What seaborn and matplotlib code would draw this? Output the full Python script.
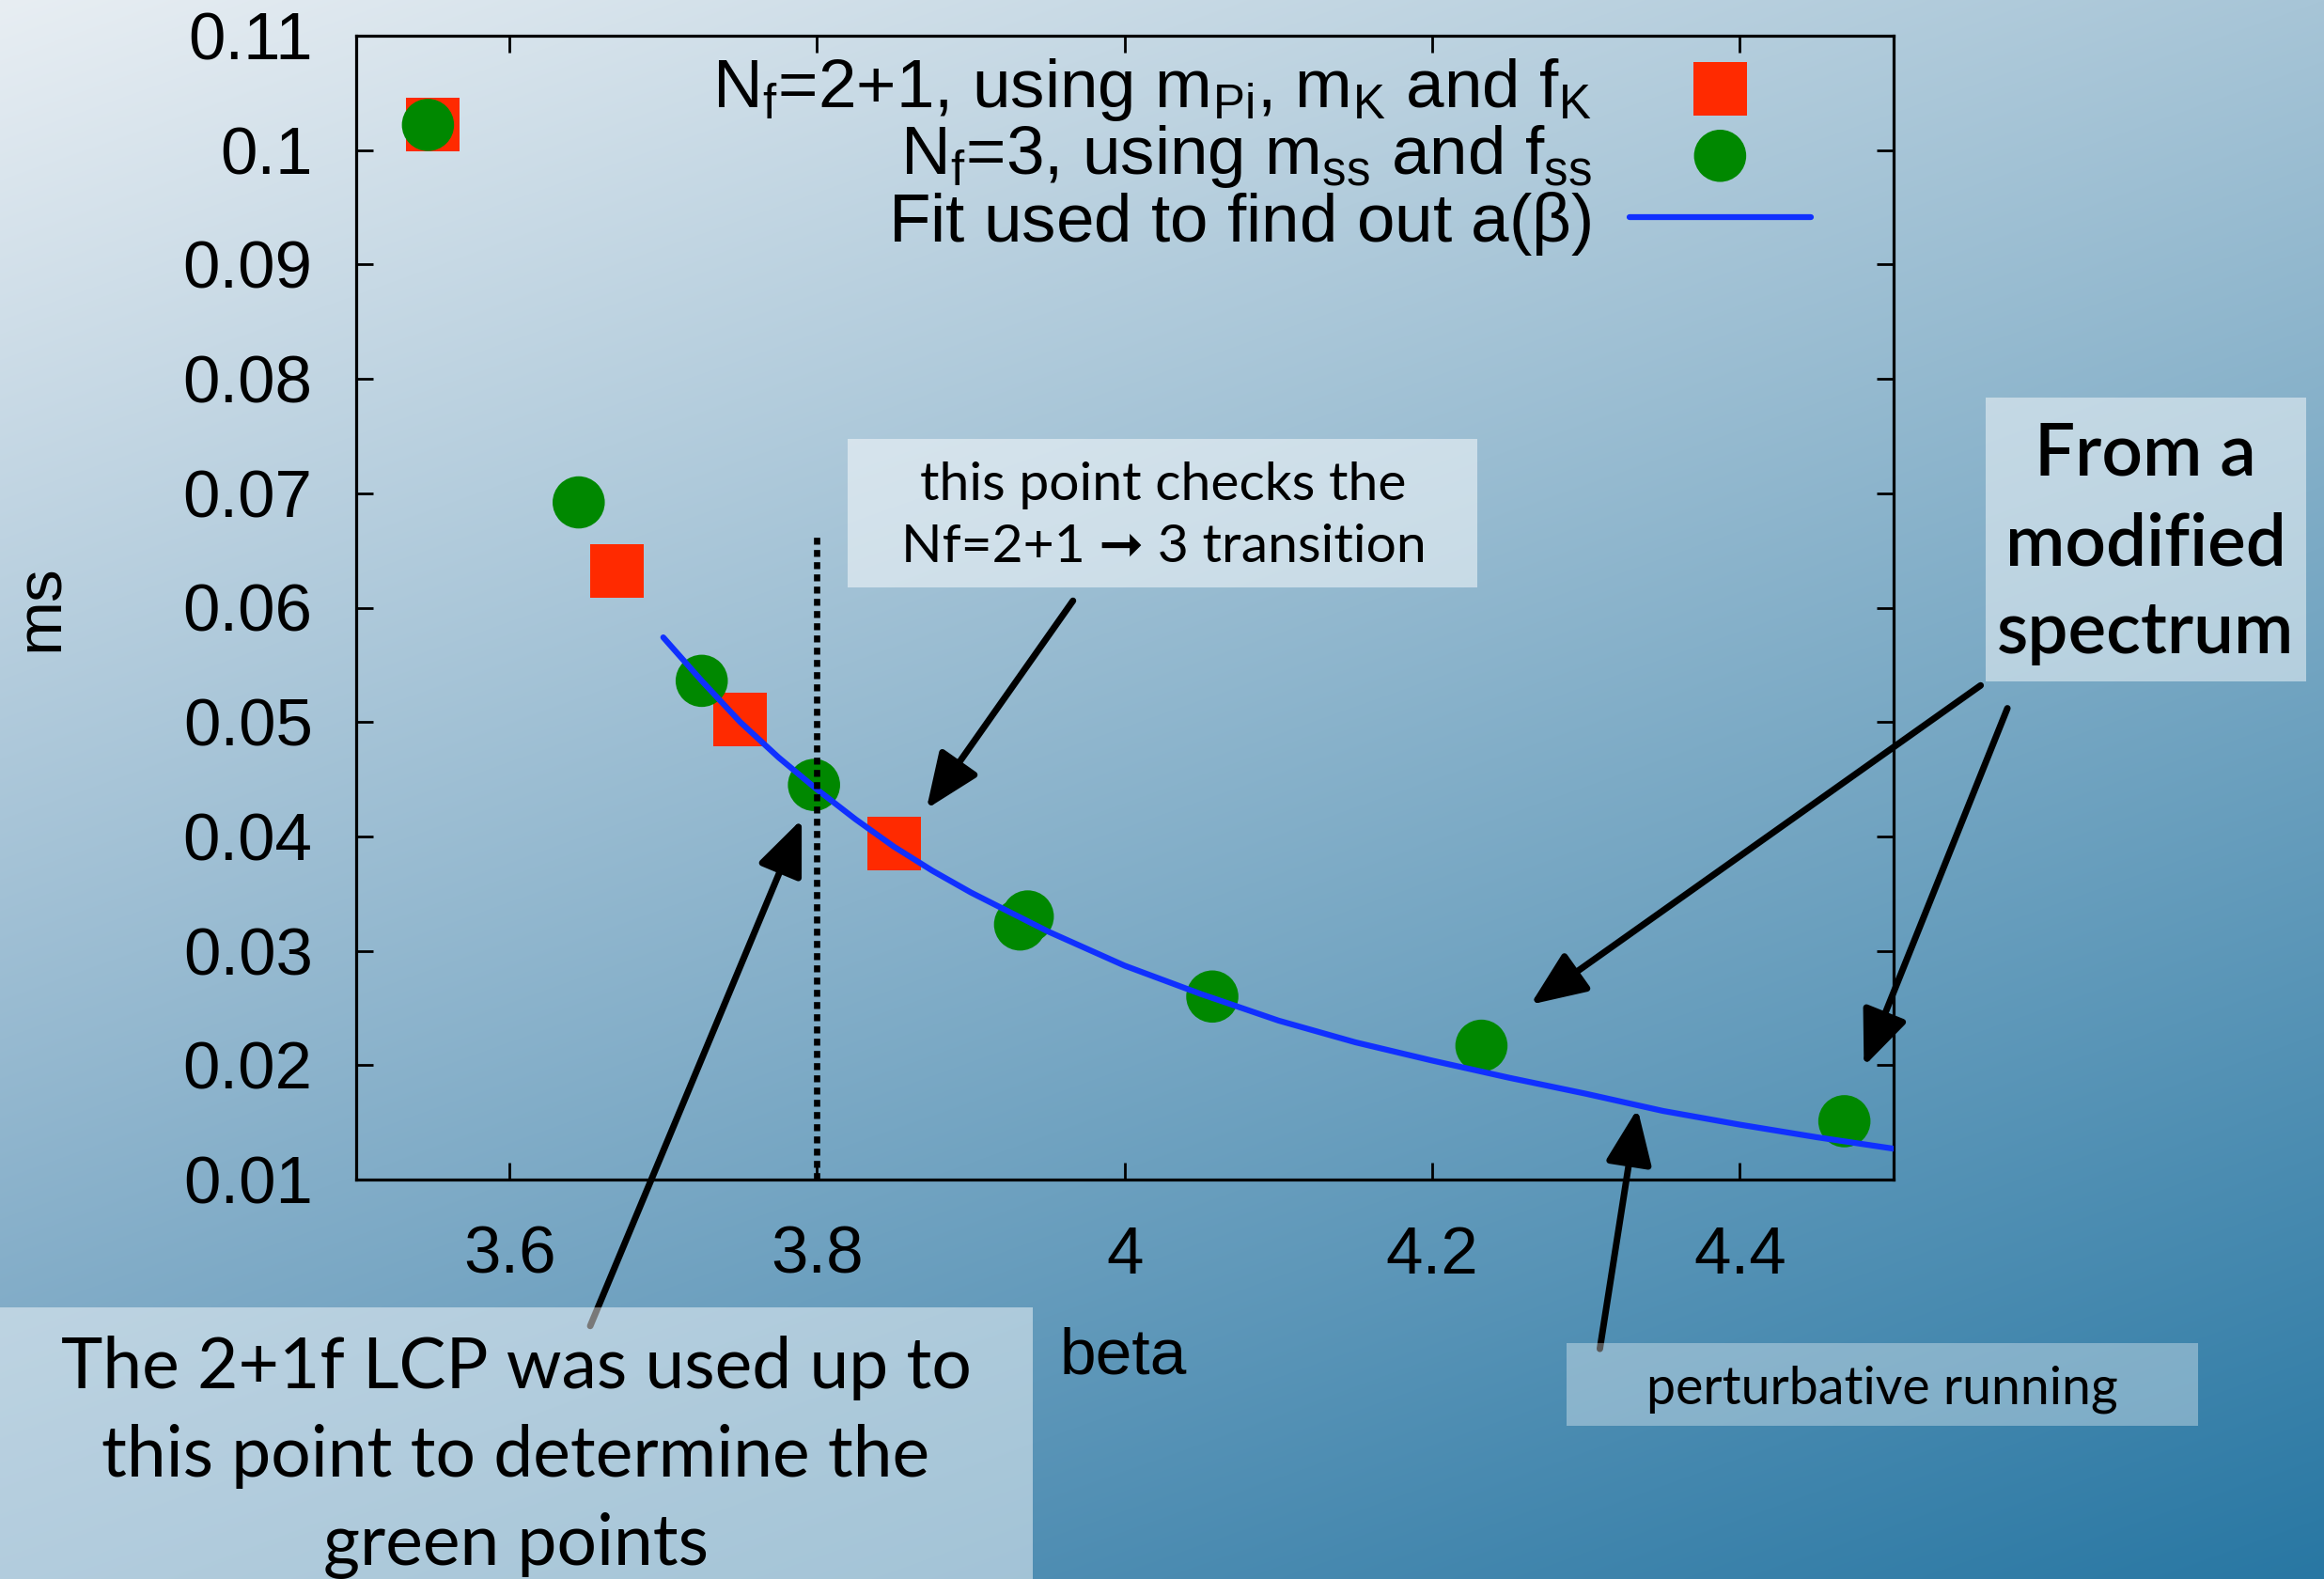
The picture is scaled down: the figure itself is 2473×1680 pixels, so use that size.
import numpy as np
import pandas as pd
import matplotlib
matplotlib.use("Agg")
import matplotlib.pyplot as plt
from matplotlib.patches import Rectangle
import seaborn as sns

# ---------------- data ----------------
red_beta = [3.550, 3.670, 3.750, 3.850]
red_ms = [0.1022, 0.0632, 0.0502, 0.0394]

green_beta = [3.547, 3.645, 3.725, 3.798, 3.932, 3.937, 4.057, 4.232, 4.468]
green_ms = [0.1022, 0.0692, 0.0536, 0.0445, 0.0323, 0.0330, 0.0260, 0.0217, 0.0151]

fit_beta = [3.700, 3.725, 3.750, 3.775, 3.800, 3.825, 3.850, 3.875, 3.900, 3.950,
            4.000, 4.050, 4.100, 4.150, 4.200, 4.250, 4.300, 4.350, 4.400, 4.450, 4.500]
fit_ms = [0.0574, 0.0536, 0.0500, 0.0469, 0.0441, 0.0415, 0.0391, 0.0370, 0.0351, 0.0317,
          0.0287, 0.0262, 0.0239, 0.0220, 0.0204, 0.0189, 0.0175, 0.0160, 0.0148, 0.0137, 0.0127]

vline_beta = [3.8, 3.8]
vline_ms = [0.01, 0.0665]

x_ticks = [3.6, 3.8, 4.0, 4.2, 4.4]
x_ticklabels = ["3.6", "3.8", "4", "4.2", "4.4"]
y_ticks = [0.01, 0.02, 0.03, 0.04, 0.05, 0.06, 0.07, 0.08, 0.09, 0.10, 0.11]
y_ticklabels = ["0.01", "0.02", "0.03", "0.04", "0.05", "0.06", "0.07", "0.08", "0.09", "0.1", "0.11"]

label_red = r"N$_{\mathregular{f}}$=2+1, using m$_{\mathregular{Pi}}$, m$_{\mathregular{K}}$ and f$_{\mathregular{K}}$"
label_green = r"N$_{\mathregular{f}}$=3, using m$_{\mathregular{ss}}$ and f$_{\mathregular{ss}}$"
label_fit = r"Fit used to find out a($\mathregular{\beta}$)"

red_df = pd.DataFrame({"beta": red_beta, "ms": red_ms})
green_df = pd.DataFrame({"beta": green_beta, "ms": green_ms})
fit_df = pd.DataFrame({"beta": fit_beta, "ms": fit_ms})

# ---------------- style ----------------
sns.set_style("ticks")
plt.rcParams["font.family"] = ["Liberation Sans", "DejaVu Sans"]
plt.rcParams["mathtext.fontset"] = "custom"
plt.rcParams["mathtext.rm"] = "Liberation Sans"
plt.rcParams["text.color"] = "black"
plt.rcParams["axes.labelcolor"] = "black"
plt.rcParams["xtick.color"] = "black"
plt.rcParams["ytick.color"] = "black"

W, H = 2473, 1680
fig = plt.figure(figsize=(W / 100, H / 100), dpi=100)

# background gradient (linear, light top-left to dark blue bottom-right)
tl = np.array([232, 238, 243]) / 255
tr = np.array([167, 197, 215]) / 255
bl = np.array([109, 159, 191]) / 255
br = np.array([40, 119, 163]) / 255
u = np.linspace(0, 1, W)[None, :, None]
v = np.linspace(0, 1, H)[:, None, None]
img = (1 - u) * (1 - v) * tl + u * (1 - v) * tr + (1 - u) * v * bl + u * v * br
fig.figimage(img, xo=0, yo=0, origin="upper", zorder=-10)

L, R, T, B = 378.5, 2015, 38, 1255
ax = fig.add_axes([L / W, 1 - B / H, (R - L) / W, (B - T) / H])
ax.set_facecolor("none")

sns.scatterplot(data=red_df, x="beta", y="ms", marker="s", s=41 ** 2, color="#ff2a00",
                edgecolor="none", linewidth=0, label=label_red, ax=ax, zorder=3)
sns.scatterplot(data=green_df, x="beta", y="ms", marker="o", s=40 ** 2, color="#008800",
                edgecolor="none", linewidth=0, label=label_green, ax=ax, zorder=4)
sns.lineplot(data=fit_df, x="beta", y="ms", color="#1030ff", lw=4.5, label=label_fit,
             ax=ax, zorder=5, sort=False)
ax.plot(vline_beta, vline_ms, color="black", lw=4.8, linestyle=(0, (1.1, 0.85)), zorder=6)

ax.set_xlim(3.5, 4.5)
ax.set_ylim(0.01, 0.11)
ax.set_xticks(x_ticks)
ax.set_xticklabels(x_ticklabels)
ax.set_yticks(y_ticks)
ax.set_yticklabels(y_ticklabels)
ax.tick_params(direction="in", top=True, right=True, length=13, width=2,
               labelsize=51, colors="black", labelcolor="black")
ax.tick_params(axis="y", pad=33)
ax.tick_params(axis="x", pad=35)
for s in ax.spines.values():
    s.set_visible(True)
    s.set_linewidth(2.3)
    s.set_color("black")

ax.set_xlabel("beta", fontsize=50, color="black")
ax.set_ylabel("ms", fontsize=50, color="black")
ax.xaxis.set_label_coords(0.4988, -0.155)
ax.xaxis.label.set_va("center")
ax.yaxis.set_label_coords(-0.2043, 0.5)
ax.yaxis.label.set_va("center")

leg = ax.legend(loc="upper right", bbox_to_anchor=((1927 - L) / (R - L), 0.982),
                frameon=False, markerfirst=False, fontsize=52.5, borderaxespad=0,
                borderpad=0, handlelength=2.65, handletextpad=0.55, labelspacing=0.0,
                markerscale=1.0)
for col in leg._legend_handle_box.get_children():
    col.align = "right"
for t in leg.get_texts():
    t.set_color("black")

# ---------------- annotations ----------------
def fig_box(x0, y0, x1, y1, alpha):
    rect = Rectangle((x0 / W, 1 - y1 / H), (x1 - x0) / W, (y1 - y0) / H,
                     transform=fig.transFigure, facecolor="white", alpha=alpha,
                     edgecolor="none", zorder=8)
    fig.add_artist(rect)

def fig_txt(x, y, s, size, weight="normal"):
    fig.text(x / W, 1 - y / H, s, ha="center", va="center", fontsize=size,
             family=["Lato", "DejaVu Sans"], weight=weight, color="black", zorder=9)

ann = dict(arrowstyle="-|>,head_length=1.2,head_width=0.5", color="black", lw=5,
           shrinkA=0, shrinkB=0, mutation_scale=30)

fig_box(902, 467, 1572, 625, 0.5)
fig_txt(1238, 516, "this point checks the", 41)
fig_txt(1238, 583, "Nf=2+1 \u279e 3 transition", 41)
ax.annotate("", xy=(3.8711, 0.0424), xytext=(3.9664, 0.0606), arrowprops=ann,
            annotation_clip=False, zorder=10)

fig_box(2113, 423, 2454, 725, 0.48)
fig_txt(2283, 484, "From a", 55, "semibold")
fig_txt(2283, 579, "modified", 55, "semibold")
fig_txt(2283, 673, "spectrum", 55, "semibold")
ax.annotate("", xy=(4.2639, 0.0253), xytext=(4.5566, 0.0532), arrowprops=ann,
            annotation_clip=False, zorder=10)
ax.annotate("", xy=(4.4807, 0.0199), xytext=(4.574, 0.0512), arrowprops=ann,
            annotation_clip=False, zorder=10)

fig_box(1667, 1429, 2339, 1517, 0.35)
fig_txt(2003, 1478, "perturbative running", 40)
ax.annotate("", xy=(4.3335, 0.0162), xytext=(4.309, -0.0048), arrowprops=ann,
            annotation_clip=False, zorder=10)

fig_box(0, 1391, 1099, 1680, 0.48)
fig_txt(549, 1456, "The 2+1f LCP was used up to", 54)
fig_txt(549, 1550, "this point to determine the", 54)
fig_txt(549, 1645, "green points", 54)
ax.annotate("", xy=(3.79, 0.0415), xytext=(3.6525, -0.0028), arrowprops=ann,
            annotation_clip=False, zorder=10)

fig.savefig("out.png", dpi=100)
